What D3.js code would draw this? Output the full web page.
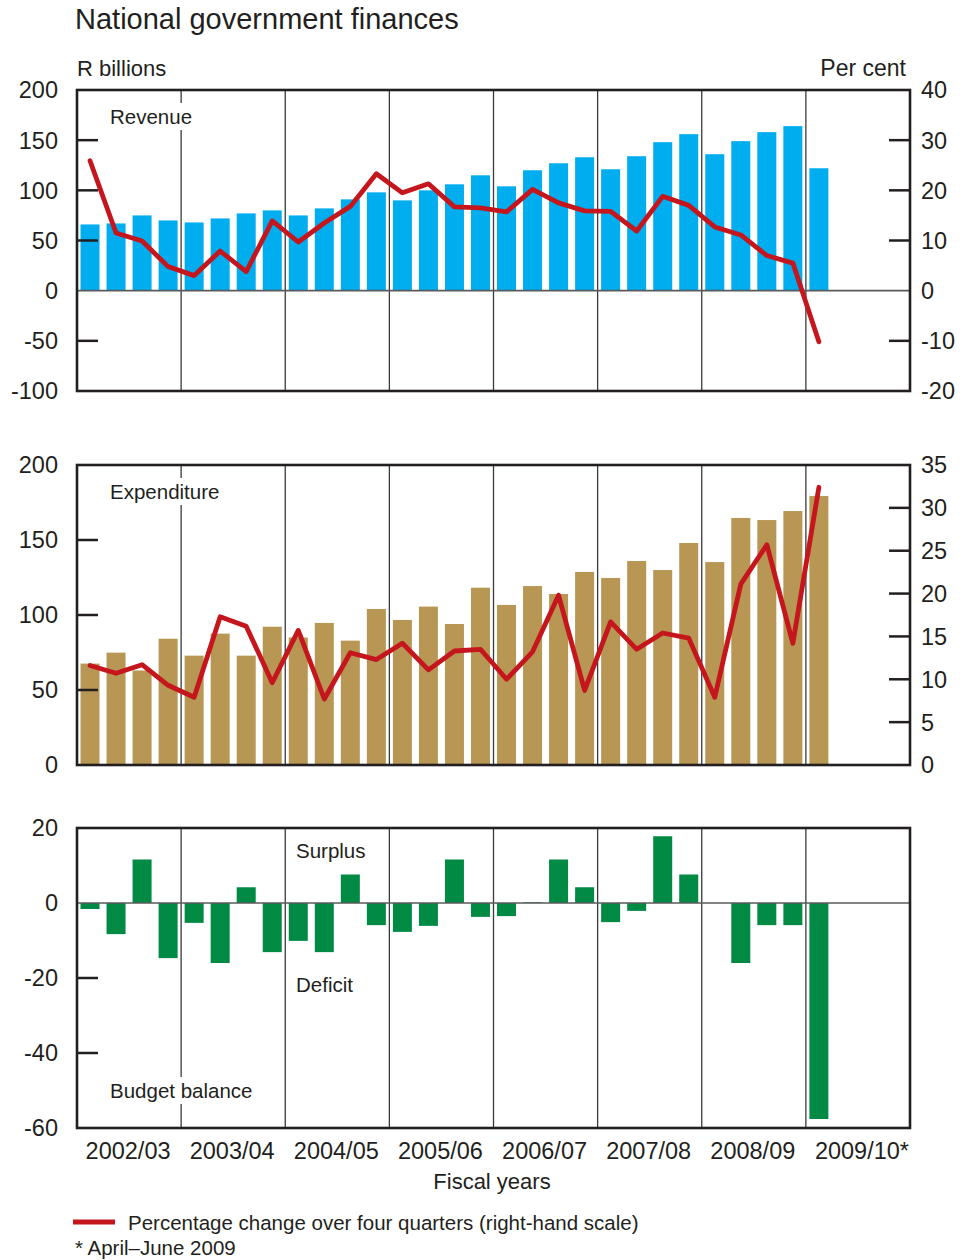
<!DOCTYPE html>
<html><head><meta charset="utf-8">
<script src="https://cdn.jsdelivr.net/npm/d3@7/dist/d3.min.js"></script>
<style>
body{margin:0;background:#fff;}
svg text{font-family:"Liberation Sans",Arial,sans-serif;fill:#231f20;}
</style></head>
<body><svg id="chart" width="966" height="1260"></svg>
<script>
const fiscalYears = ["2002/03","2003/04","2004/05","2005/06","2006/07","2007/08","2008/09","2009/10*"];
const quarterNames = ["Q1","Q2","Q3","Q4"];
const revenue = [66,67,75,70,68,72,77,80,75,82,91,98,90,100,106,115,104,120,127,133,121,134,148,156,136,149,158,164,122];
const revenueChange = [25.9,11.5,9.9,4.8,3.0,7.9,3.8,13.9,9.7,13.5,16.8,23.3,19.5,21.3,16.7,16.5,15.7,20.2,17.5,15.9,15.8,11.9,18.8,17.0,12.7,11.1,7.0,5.5,-10.2];
const expenditure = [67.6,74.9,63,84.2,72.9,87.6,72.9,92.2,85,94.7,82.9,104,96.7,105.6,94,118.2,106.7,119.3,114,128.7,124.7,136,130,148,135.3,164.7,163.3,169.3,179.3];
const expenditureChange = [11.6,10.7,11.7,9.3,7.9,17.3,16.2,9.6,15.7,7.7,13.1,12.3,14.2,11.1,13.3,13.5,10.0,13.2,19.8,8.7,16.7,13.5,15.4,14.8,7.9,21.1,25.7,14.2,32.4];
const balance = [-1.6,-8.3,11.6,-14.7,-5.3,-16,4.2,-13.1,-10.1,-13.1,7.6,-5.9,-7.7,-6.1,11.6,-3.7,-3.5,0.2,11.6,4.2,-5.1,-2.1,17.8,7.6,0,-16,-5.9,-5.9,-57.6];
const revLeftTicks = [200,150,100,50,0,-50,-100];
const revRightTicks = [40,30,20,10,0,-10,-20];
const expLeftTicks = [200,150,100,50,0];
const expRightTicks = [35,30,25,20,15,10,5,0];
const balTicks = [20,0,-20,-40,-60];

const slots = [];
fiscalYears.forEach(y => quarterNames.forEach(q => slots.push(y + " " + q)));

const svg = d3.select("#chart");
const L = 77, R = 910;
const x = d3.scaleBand().domain(slots).range([L, R]).paddingInner(0.27).paddingOuter(0.135);
const yearX = d3.scaleBand().domain(fiscalYears).range([L, R]);
const FS = 23.5;
const frameCol = "#231f20";

function panel(o){
  const g = svg.append("g");
  const yL = d3.scaleLinear().domain(o.leftDomain).range([o.bottom, o.top]);
  fiscalYears.slice(1).forEach(fy => {
    g.append("line").attr("x1", yearX(fy)).attr("x2", yearX(fy))
      .attr("y1", o.top).attr("y2", o.bottom)
      .attr("stroke", "#3a3a3a").attr("stroke-width", 1.3);
  });
  const lab = g.append("text").attr("x", 110).attr("y", o.labelY).attr("font-size", 20.5).text(o.label);
  const bb = lab.node().getBBox();
  g.insert("rect", "text").attr("x", bb.x - 3).attr("y", bb.y - 2).attr("width", bb.width + 6).attr("height", bb.height + 4).attr("fill", "#fff");
  g.selectAll("rect.bar").data(o.bars).enter().append("rect").attr("class","bar")
    .attr("x", (d,i) => x(slots[i])).attr("width", x.bandwidth())
    .attr("y", d => yL(Math.max(0,d))).attr("height", d => Math.abs(yL(d) - yL(0)))
    .attr("fill", o.color);
  if (o.zeroLine) {
    g.append("line").attr("x1", L).attr("x2", R).attr("y1", yL(0)).attr("y2", yL(0))
      .attr("stroke", "#5a5a5a").attr("stroke-width", 1.6);
  }
  o.leftTicks.forEach(t => {
    if (t !== o.leftDomain[0] && t !== o.leftDomain[1] && t !== 0) {
      g.append("line").attr("x1", L).attr("x2", L + 21).attr("y1", yL(t)).attr("y2", yL(t))
        .attr("stroke", frameCol).attr("stroke-width", 2.5);
    }
    g.append("text").attr("x", 58).attr("y", yL(t)).attr("dy", "0.36em")
      .attr("text-anchor", "end").attr("font-size", FS).text(t);
  });
  if (o.rightDomain) {
    const yR = d3.scaleLinear().domain(o.rightDomain).range([o.bottom, o.top]);
    o.rightTicks.forEach(t => {
      if (t !== o.rightDomain[0] && t !== o.rightDomain[1] && t !== 0) {
        g.append("line").attr("x1", R - 21).attr("x2", R).attr("y1", yR(t)).attr("y2", yR(t))
          .attr("stroke", frameCol).attr("stroke-width", 2.5);
      }
      g.append("text").attr("x", 921).attr("y", yR(t)).attr("dy", "0.36em")
        .attr("text-anchor", "start").attr("font-size", FS).text(t);
    });
    const line = d3.line().x((d,i) => x(slots[i]) + x.bandwidth()/2).y(d => yR(d));
    g.append("path").datum(o.line).attr("d", line).attr("fill", "none")
      .attr("stroke", "#c4161c").attr("stroke-width", 4.8)
      .attr("stroke-linejoin", "round").attr("stroke-linecap", "round");
  }
  g.append("rect").attr("x", L).attr("y", o.top).attr("width", R - L).attr("height", o.bottom - o.top)
    .attr("fill", "none").attr("stroke", frameCol).attr("stroke-width", 2.6);
  return {g, yL};
}

svg.append("text").attr("x", 75).attr("y", 29).attr("font-size", 29).text("National government finances");
svg.append("text").attr("x", 77).attr("y", 76).attr("font-size", 22).text("R billions");
svg.append("text").attr("x", 906).attr("y", 76).attr("text-anchor","end").attr("font-size", 23).text("Per cent");

panel({top: 90, bottom: 391, leftDomain: [-100,200], rightDomain: [-20,40], leftTicks: revLeftTicks, rightTicks: revRightTicks,
  bars: revenue, line: revenueChange, color: "#00adef", label: "Revenue", labelY: 124, zeroLine: true});
panel({top: 465, bottom: 765, leftDomain: [0,200], rightDomain: [0,35], leftTicks: expLeftTicks, rightTicks: expRightTicks,
  bars: expenditure, line: expenditureChange, color: "#b79753", label: "Expenditure", labelY: 499, zeroLine: false});
const p3 = panel({top: 828, bottom: 1128, leftDomain: [-60,20], leftTicks: balTicks,
  bars: balance, color: "#008a43", label: "Budget balance", labelY: 1098, zeroLine: true});
p3.g.append("text").attr("x", 296).attr("y", 858).attr("font-size", 20.5).text("Surplus");
p3.g.append("text").attr("x", 296).attr("y", 992).attr("font-size", 20.5).text("Deficit");

fiscalYears.forEach(fy => {
  svg.append("text").attr("x", yearX(fy) + yearX.bandwidth()/2 + (fy.endsWith("*") ? 4 : -1)).attr("y", 1159)
    .attr("text-anchor","middle").attr("font-size", FS).text(fy);
});
svg.append("text").attr("x", 492).attr("y", 1189).attr("text-anchor","middle").attr("font-size", 22).text("Fiscal years");

svg.append("line").attr("x1", 73).attr("x2", 115).attr("y1", 1222).attr("y2", 1222).attr("stroke","#c4161c").attr("stroke-width", 5);
svg.append("text").attr("x", 128).attr("y", 1230).attr("font-size", 20.5).text("Percentage change over four quarters (right-hand scale)");
svg.append("text").attr("x", 75).attr("y", 1255).attr("font-size", 20.5).text("* April–June 2009");
</script>
</body></html>
